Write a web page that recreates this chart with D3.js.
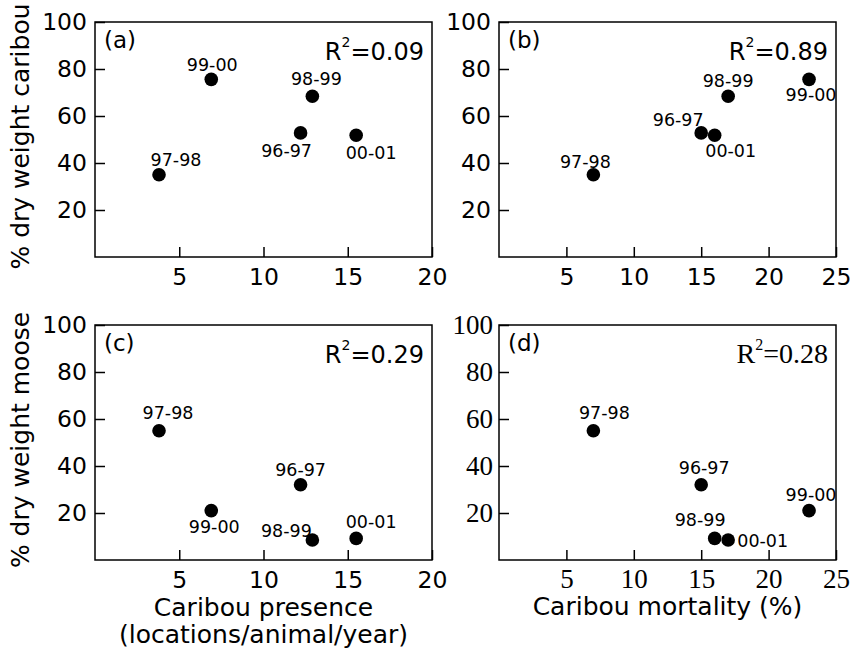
<!DOCTYPE html>
<html>
<head>
<meta charset="utf-8">
<script src="https://cdn.jsdelivr.net/npm/d3@7"></script>
<style>
  body { margin: 0; background: #fff; }
  svg { display: block; }
</style>
</head>
<body>
<div id="plot"></div>
<script>
// data
var seasons = ["96-97", "97-98", "98-99", "99-00", "00-01"];
var presence = [12.2, 3.8, 12.9, 6.9, 15.5];     // locations/animal/year
var mortality = [15, 7, 17, 23, 16];            // %
var caribouPct = [52.8, 35, 68.4, 75.6, 51.8];  // % dry weight caribou
var moosePct = [32, 55, 8.5, 21, 9.2];          // % dry weight moose
var yTicks = [20, 40, 60, 80, 100];
var xTicksPresence = [5, 10, 15, 20];
var xTicksMortality = [5, 10, 15, 20, 25];
var rSquared = ["0.09", "0.89", "0.29", "0.28"];
var panelLetters = ["(a)", "(b)", "(c)", "(d)"];

var width = 850, height = 656;
var sans = "DejaVu Sans", serif = "Liberation Serif";

var svg = d3.select('#plot')
    .append('svg')
    .attr('width', width)
    .attr('height', height);

// label offsets (label centre - dot x, baseline - dot y), per panel, in season order
var labelOffsets = [
    [[-14, 24], [17, -9], [4, -11], [1, -8], [15, 24]],
    [[-23, -7], [-8, -7], [0, -9], [2, 22], [16, 22]],
    [[0, -9], [9, -12], [-26, -3], [3, 22], [15, -10]],
    [[3, -11], [11, -12], [-28, -14], [2, -10], [48, 9]]
];

var panels = [
    {l: 95, t: 22, xs: presence, ys: caribouPct, xmax: 20, xt: xTicksPresence, font: sans},
    {l: 499, t: 22, xs: mortality, ys: caribouPct, xmax: 25, xt: xTicksMortality, font: sans},
    {l: 95, t: 325, xs: presence, ys: moosePct, xmax: 20, xt: xTicksPresence, font: sans},
    {l: 499, t: 325, xs: mortality, ys: moosePct, xmax: 25, xt: xTicksMortality, font: serif}
];
var pw = 337, ph = 235;

panels.forEach(function (p, i) {
    var g = svg.append('g').attr('transform', 'translate(' + p.l + ',' + p.t + ')');
    var x = d3.scaleLinear().domain([0, p.xmax]).range([0, pw]);
    var y = d3.scaleLinear().domain([0, 100]).range([ph, 0]);
    var isSerif = p.font === serif;
    var tickFs = isSerif ? 27 : 23.5;

    var yAxis = g.append('g')
        .call(d3.axisLeft(y).tickValues(yTicks).tickSize(-10).tickPadding(isSerif ? 6 : 8));
    var xAxis = g.append('g')
        .attr('transform', 'translate(0,' + ph + ')')
        .call(d3.axisBottom(x).tickValues(p.xt).tickSize(-10).tickPadding(isSerif ? 9 : 11));
    [yAxis, xAxis].forEach(function (a) {
        a.select('.domain').remove();
        a.selectAll('line').attr('stroke', '#000').attr('stroke-width', 1.5);
        a.selectAll('text').attr('fill', '#000')
            .style('font-family', p.font).style('font-size', tickFs + 'px');
    });

    g.append('rect')
        .attr('width', pw).attr('height', ph)
        .attr('fill', 'none').attr('stroke', '#000').attr('stroke-width', 1.5);

    // dots
    g.selectAll('circle.pt')
        .data(seasons)
        .enter().append('circle')
        .attr('class', 'pt')
        .attr('cx', function (d, k) { return x(p.xs[k]); })
        .attr('cy', function (d, k) { return y(p.ys[k]); })
        .attr('r', 6.8)
        .attr('fill', '#000');

    g.selectAll('text.lab')
        .data(seasons)
        .enter().append('text')
        .attr('class', 'lab')
        .attr('x', function (d, k) { return x(p.xs[k]) + labelOffsets[i][k][0]; })
        .attr('y', function (d, k) { return y(p.ys[k]) + labelOffsets[i][k][1]; })
        .attr('text-anchor', 'middle')
        .style('font-family', sans).style('font-size', '17.5px')
        .text(function (d) { return d; });

    g.append('text')
        .attr('x', 9).attr('y', 26)
        .style('font-family', sans).style('font-size', '23px')
        .text(panelLetters[i]);

    var rFs = isSerif ? 28 : 24;
    var r2 = g.append('text')
        .attr('x', pw - 8).attr('y', 38)
        .attr('text-anchor', 'end')
        .style('font-family', p.font).style('font-size', rFs + 'px');
    r2.append('tspan').text('R');
    r2.append('tspan').attr('dy', -13).style('font-size', isSerif ? '16px' : '14px').text('2');
    r2.append('tspan').attr('dy', 13).text('=' + rSquared[i]);
});

// axis titles
function yTitle(txt, cy) {
    svg.append('text')
        .attr('transform', 'translate(29,' + cy + ') rotate(-90)')
        .attr('text-anchor', 'middle')
        .style('font-family', sans).style('font-size', '25px')
        .text(txt);
}
yTitle('% dry weight caribou', 136.5);
yTitle('% dry weight moose', 440);

svg.append('text')
    .attr('x', 95 + pw / 2).attr('y', 616)
    .attr('text-anchor', 'middle')
    .style('font-family', sans).style('font-size', '25px')
    .text('Caribou presence');
svg.append('text')
    .attr('x', 95 + pw / 2).attr('y', 643)
    .attr('text-anchor', 'middle')
    .style('font-family', sans).style('font-size', '25px')
    .text('(locations/animal/year)');
svg.append('text')
    .attr('x', 499 + pw / 2).attr('y', 615)
    .attr('text-anchor', 'middle')
    .style('font-family', sans).style('font-size', '25px')
    .text('Caribou mortality (%)');
</script>
</body>
</html>
